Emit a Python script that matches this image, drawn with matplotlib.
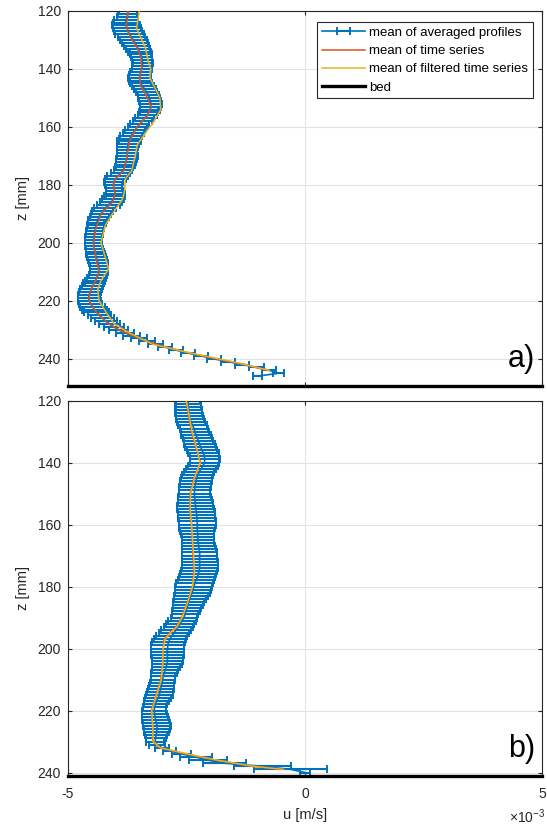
import matplotlib
matplotlib.use("Agg")
import matplotlib.pyplot as plt
import numpy as np

plt.rcParams["font.family"] = ["Liberation Sans", "DejaVu Sans"]
plt.rcParams["mathtext.fontset"] = "custom"
plt.rcParams["mathtext.rm"] = "Liberation Sans"
plt.rcParams["mathtext.it"] = "Liberation Sans"

# u values are in units of 1e-3 m/s, z in mm
# ---- panel a) ----
z_a = np.arange(120, 247)
u_avg_a = [
    -3.73, -3.74, -3.75, -3.77, -3.78, -3.77, -3.75, -3.73, -3.70, -3.66,
    -3.62, -3.58, -3.55, -3.52, -3.49, -3.46, -3.44, -3.43, -3.42, -3.43,
    -3.44, -3.46, -3.48, -3.49, -3.48, -3.46, -3.42, -3.38, -3.34, -3.30,
    -3.28, -3.26, -3.25, -3.25, -3.26, -3.29, -3.33, -3.38, -3.43, -3.48,
    -3.53, -3.58, -3.62, -3.66, -3.69, -3.71, -3.73, -3.74, -3.75, -3.75,
    -3.75, -3.76, -3.77, -3.79, -3.81, -3.84, -3.89, -3.95, -4.00, -4.03,
    -4.04, -4.03, -4.01, -4.00, -4.01, -4.04, -4.09, -4.15, -4.21, -4.26,
    -4.30, -4.34, -4.37, -4.39, -4.41, -4.42, -4.43, -4.44, -4.45, -4.46,
    -4.46, -4.45, -4.44, -4.43, -4.42, -4.40, -4.38, -4.36, -4.35, -4.34,
    -4.34, -4.36, -4.39, -4.42, -4.45, -4.48, -4.51, -4.53, -4.55, -4.56,
    -4.55, -4.52, -4.48, -4.44, -4.39, -4.33, -4.27, -4.20, -4.12, -4.03,
    -3.93, -3.80, -3.66, -3.50, -3.33, -3.15, -2.95, -2.72, -2.47, -2.20,
    -1.92, -1.62, -1.32, -1.02, -0.75, -0.56, -1.00,
]
u_err_a = [
    0.19, 0.20, 0.22, 0.25, 0.27, 0.29, 0.30, 0.30, 0.30, 0.29,
    0.28, 0.27, 0.26, 0.25, 0.24, 0.23, 0.22, 0.21, 0.21, 0.21,
    0.21, 0.22, 0.23, 0.24, 0.24, 0.23, 0.23, 0.23, 0.23, 0.23,
    0.23, 0.23, 0.23, 0.22, 0.21, 0.20, 0.20, 0.20, 0.20, 0.20,
    0.20, 0.21, 0.22, 0.23, 0.24, 0.25, 0.24, 0.22, 0.21, 0.21,
    0.22, 0.22, 0.21, 0.20, 0.19, 0.19, 0.20, 0.22, 0.22, 0.20,
    0.18, 0.17, 0.18, 0.20, 0.22, 0.23, 0.24, 0.24, 0.23, 0.22,
    0.21, 0.20, 0.20, 0.19, 0.18, 0.18, 0.18, 0.18, 0.18, 0.18,
    0.18, 0.18, 0.18, 0.19, 0.20, 0.20, 0.20, 0.20, 0.19, 0.19,
    0.19, 0.19, 0.20, 0.21, 0.22, 0.23, 0.23, 0.23, 0.23, 0.23,
    0.24, 0.25, 0.26, 0.26, 0.26, 0.25, 0.24, 0.23, 0.22, 0.21,
    0.20, 0.19, 0.18, 0.17, 0.16, 0.16, 0.15, 0.15, 0.15, 0.15,
    0.15, 0.15, 0.15, 0.15, 0.15, 0.12, 0.10,
]
z_ts_a = [120, 122, 125, 128, 130, 133, 136, 140, 143, 146, 150, 153, 156, 160,
          165, 170, 175, 178, 180, 183, 186, 190, 195, 200, 205, 210, 213, 215,
          218, 220, 223, 225, 228, 230, 233, 235, 238, 240, 242, 244]
u_ts_a = [-3.73, -3.74, -3.77, -3.71, -3.64, -3.53, -3.46, -3.44, -3.49, -3.46,
          -3.32, -3.25, -3.32, -3.54, -3.70, -3.75, -3.82, -4.00, -4.04, -4.00,
          -4.06, -4.30, -4.41, -4.46, -4.41, -4.34, -4.41, -4.48, -4.55, -4.55,
          -4.44, -4.34, -4.13, -3.92, -3.49, -3.14, -2.44, -1.88, -1.25, -0.80]
z_filt_a = [120, 126, 130, 133, 137, 140, 143, 146, 150, 154, 158, 162, 166, 170,
            175, 178, 182, 185, 190, 194, 200, 205, 209, 213, 216, 220, 224, 228,
            231, 235, 238, 241, 244]
u_filt_a = [-3.49, -3.55, -3.44, -3.36, -3.31, -3.25, -3.27, -3.18, -3.06, -3.04,
            -3.18, -3.36, -3.53, -3.58, -3.65, -3.79, -3.80, -3.85, -4.06, -4.21,
            -4.30, -4.21, -4.14, -4.30, -4.37, -4.34, -4.19, -4.02, -3.71, -3.21,
            -2.41, -1.53, -0.75]
bed_a = 249.3

# ---- panel b) ----
z_b = np.arange(120, 241)
u_avg_b = [
    -2.47, -2.46, -2.46, -2.45, -2.45, -2.44, -2.42, -2.40, -2.37, -2.34,
    -2.32, -2.30, -2.27, -2.25, -2.22, -2.20, -2.17, -2.14, -2.12, -2.11,
    -2.12, -2.15, -2.19, -2.23, -2.26, -2.28, -2.30, -2.31, -2.32, -2.33,
    -2.33, -2.33, -2.32, -2.31, -2.31, -2.30, -2.29, -2.28, -2.28, -2.27,
    -2.27, -2.27, -2.27, -2.26, -2.26, -2.26, -2.25, -2.24, -2.23, -2.22,
    -2.22, -2.22, -2.22, -2.22, -2.22, -2.23, -2.25, -2.27, -2.30, -2.32,
    -2.34, -2.36, -2.38, -2.40, -2.43, -2.45, -2.47, -2.49, -2.51, -2.53,
    -2.55, -2.59, -2.63, -2.67, -2.72, -2.76, -2.81, -2.85, -2.88, -2.89,
    -2.90, -2.90, -2.90, -2.90, -2.90, -2.91, -2.93, -2.95, -2.97, -2.99,
    -3.00, -3.01, -3.03, -3.04, -3.06, -3.07, -3.10, -3.13, -3.15, -3.17,
    -3.18, -3.17, -3.16, -3.15, -3.13, -3.12, -3.12, -3.13, -3.14, -3.15,
    -3.16, -3.12, -3.02, -2.85, -2.60, -2.30, -2.05, -1.70, -0.90, -0.30,
    0.00,
]
u_err_b = [
    0.26, 0.26, 0.27, 0.27, 0.28, 0.28, 0.29, 0.29, 0.30, 0.30,
    0.30, 0.31, 0.31, 0.31, 0.32, 0.32, 0.32, 0.32, 0.31, 0.31,
    0.31, 0.31, 0.32, 0.32, 0.33, 0.33, 0.33, 0.33, 0.33, 0.33,
    0.33, 0.34, 0.35, 0.37, 0.38, 0.39, 0.39, 0.39, 0.39, 0.39,
    0.39, 0.38, 0.36, 0.35, 0.34, 0.34, 0.34, 0.35, 0.36, 0.37,
    0.37, 0.37, 0.38, 0.38, 0.38, 0.38, 0.38, 0.38, 0.38, 0.39,
    0.39, 0.38, 0.37, 0.36, 0.34, 0.33, 0.31, 0.30, 0.29, 0.28,
    0.28, 0.29, 0.30, 0.31, 0.32, 0.32, 0.33, 0.34, 0.35, 0.35,
    0.35, 0.34, 0.34, 0.33, 0.33, 0.32, 0.30, 0.28, 0.27, 0.26,
    0.25, 0.25, 0.26, 0.27, 0.28, 0.28, 0.27, 0.26, 0.25, 0.25,
    0.25, 0.26, 0.27, 0.28, 0.29, 0.29, 0.28, 0.26, 0.24, 0.21,
    0.19, 0.17, 0.15, 0.14, 0.20, 0.33, 0.40, 0.45, 0.60, 0.77,
    0.10,
]
z_ts_b = [120, 130, 135, 140, 145, 150, 155, 160, 170, 175, 180, 185, 190, 193,
          195, 197, 200, 205, 210, 215, 220, 225, 230, 232, 234, 236, 238, 239]
u_ts_b = [-2.51, -2.39, -2.30, -2.20, -2.34, -2.42, -2.43, -2.39, -2.36, -2.34,
          -2.37, -2.48, -2.60, -2.72, -2.86, -2.97, -2.99, -3.00, -3.04, -3.14,
          -3.24, -3.21, -3.21, -3.07, -2.51, -1.88, -1.11, -0.48]
u_filt_b = [-2.50, -2.38, -2.29, -2.21, -2.33, -2.41, -2.42, -2.39, -2.35, -2.33,
            -2.37, -2.47, -2.59, -2.70, -2.84, -2.95, -2.99, -3.00, -3.03, -3.13,
            -3.23, -3.21, -3.20, -3.05, -2.48, -1.85, -1.08, -0.45]
bed_b = 241.0

labels = ["mean of averaged profiles", "mean of time series",
          "mean of filtered time series", "bed"]
c_blue, c_red, c_yel = "#0072BD", "#D95319", "#EDB120"
ink = "#262626"

fig = plt.figure(figsize=(5.47, 8.26), dpi=100)
ax_a = fig.add_axes([0.124, 0.533, 0.867, 0.4537])
ax_b = fig.add_axes([0.124, 0.061, 0.867, 0.454])


def draw_panel(ax, z, u_avg, u_err, z_ts, u_ts, z_f, u_f, bed, tag):
    h1 = ax.errorbar(u_avg, z, xerr=u_err, color=c_blue, lw=1.2,
                     elinewidth=1.5, capsize=2.6, capthick=1.4)
    h2, = ax.plot(u_ts, z_ts, color=c_red, lw=1.1, zorder=3)
    h3, = ax.plot(u_f, z_f, color=c_yel, lw=1.1, zorder=3.1)
    h4, = ax.plot([-5, 5], [bed, bed], color="black", lw=2.4, clip_on=False,
                  zorder=5)
    ax.set_xlim(-5, 5)
    ax.set_ylim(bed, 120)
    ax.set_xticks([-5, 0, 5])
    ax.set_yticks([120, 140, 160, 180, 200, 220, 240])
    ax.grid(True, color="#e3e3e3", lw=0.8)
    ax.set_axisbelow(True)
    ax.tick_params(direction="in", top=True, right=True, length=3,
                   colors=ink, labelsize=10, labelcolor=ink)
    ax.tick_params(axis="y", pad=5)
    ax.tick_params(axis="x", pad=8)
    for s in ax.spines.values():
        s.set_color(ink)
        s.set_linewidth(0.8)
    ax.set_ylabel("z [mm]", fontsize=10.5, color=ink, labelpad=5)
    ax.text(0.985, 0.05, tag, transform=ax.transAxes, ha="right",
            va="baseline", fontsize=22, color="black")
    return [h1, h2, h3, h4]


handles = draw_panel(ax_a, z_a, u_avg_a, u_err_a, z_ts_a, u_ts_a,
                     z_filt_a, u_filt_a, bed_a, "a)")
draw_panel(ax_b, z_b, u_avg_b, u_err_b, z_ts_b, u_ts_b,
           z_ts_b, u_filt_b, bed_b, "b)")
ax_a.tick_params(labelbottom=False)
ax_b.set_xticklabels(["-5", "0", "5"])
ax_b.set_xlabel("u [m/s]", fontsize=10.5, color=ink, labelpad=5)
fig.text(0.996, 0.011, r"$\times$10$^{-3}$", ha="right", va="center",
         fontsize=10, color=ink)

leg = ax_a.legend(handles, labels, loc="upper right",
                  bbox_to_anchor=(0.981, 0.970), fontsize=9.5,
                  frameon=True, fancybox=False, framealpha=1,
                  edgecolor=ink, handlelength=3.3, handletextpad=0.3,
                  labelspacing=0.45, borderpad=0.35, borderaxespad=0)
leg.get_frame().set_linewidth(0.8)

fig.savefig("out.png", dpi=100)
